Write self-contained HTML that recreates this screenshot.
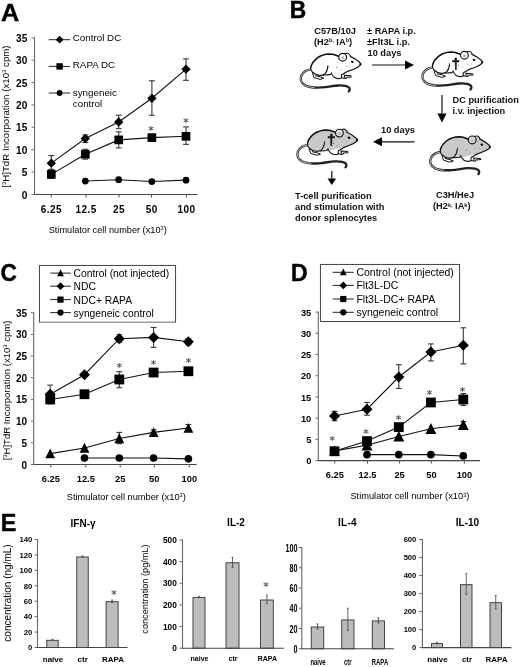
<!DOCTYPE html>
<html lang="en"><head><meta charset="utf-8"><title>Figure</title>
<style>
html,body{margin:0;padding:0;background:#fff;}
body{width:520px;height:667px;overflow:hidden;}
svg{display:block;font-family:"Liberation Sans",Arial,Helvetica,sans-serif;}
</style></head><body>
<svg width="520" height="667" viewBox="0 0 520 667">
<rect width="520" height="667" fill="#fff"/>
<text x="1.0" y="20.7" font-size="24" font-weight="bold" fill="#000" transform="translate(1.0 0) scale(1.055 1) translate(-1.0 0)" stroke="#000" stroke-width="0.3">A</text>
<text x="289.7" y="17.8" font-size="24" font-weight="bold" fill="#000" transform="translate(289.7 0) scale(0.95 1) translate(-289.7 0)" stroke="#000" stroke-width="0.5">B</text>
<text x="0.6" y="281" font-size="24" font-weight="bold" fill="#000" transform="translate(0.6 0) scale(0.95 1) translate(-0.6 0)" stroke="#000" stroke-width="0.4">C</text>
<text x="290.7" y="281" font-size="24" font-weight="bold" fill="#000" transform="translate(290.7 0) scale(0.98 1) translate(-290.7 0)" stroke="#000" stroke-width="0.3">D</text>
<text x="0.7" y="530.9" font-size="24.8" font-weight="bold" fill="#000" transform="translate(0.7 0) scale(0.94 1) translate(-0.7 0)" stroke="#000" stroke-width="0.5">E</text>
<g id="panelA">
<line x1="34.50" y1="37.30" x2="34.50" y2="195.00" stroke="#666" stroke-width="1.1"/>
<line x1="34.00" y1="194.50" x2="197.50" y2="194.50" stroke="#444" stroke-width="1.1"/>
<line x1="31.50" y1="194.50" x2="34.50" y2="194.50" stroke="#777" stroke-width="1"/>
<text x="27.3" y="198.536" font-size="10.1" font-weight="bold" text-anchor="end">0</text>
<line x1="31.50" y1="172.11" x2="34.50" y2="172.11" stroke="#777" stroke-width="1"/>
<text x="27.3" y="176.1502857142857" font-size="10.1" font-weight="bold" text-anchor="end">5</text>
<line x1="31.50" y1="149.73" x2="34.50" y2="149.73" stroke="#777" stroke-width="1"/>
<text x="27.3" y="153.76457142857143" font-size="10.1" font-weight="bold" text-anchor="end">10</text>
<line x1="31.50" y1="127.34" x2="34.50" y2="127.34" stroke="#777" stroke-width="1"/>
<text x="27.3" y="131.37885714285716" font-size="10.1" font-weight="bold" text-anchor="end">15</text>
<line x1="31.50" y1="104.96" x2="34.50" y2="104.96" stroke="#777" stroke-width="1"/>
<text x="27.3" y="108.99314285714286" font-size="10.1" font-weight="bold" text-anchor="end">20</text>
<line x1="31.50" y1="82.57" x2="34.50" y2="82.57" stroke="#777" stroke-width="1"/>
<text x="27.3" y="86.60742857142858" font-size="10.1" font-weight="bold" text-anchor="end">25</text>
<line x1="31.50" y1="60.19" x2="34.50" y2="60.19" stroke="#777" stroke-width="1"/>
<text x="27.3" y="64.22171428571428" font-size="10.1" font-weight="bold" text-anchor="end">30</text>
<line x1="31.50" y1="37.80" x2="34.50" y2="37.80" stroke="#777" stroke-width="1"/>
<text x="27.3" y="41.83600000000001" font-size="10.1" font-weight="bold" text-anchor="end">35</text>
<line x1="51.20" y1="194.50" x2="51.20" y2="197.50" stroke="#555" stroke-width="1"/>
<text x="51.425000000000004" y="212.7" font-size="10" font-weight="bold" text-anchor="middle" letter-spacing="0.45">6.25</text>
<line x1="86.00" y1="194.50" x2="86.00" y2="197.50" stroke="#555" stroke-width="1"/>
<text x="86.225" y="212.7" font-size="10" font-weight="bold" text-anchor="middle" letter-spacing="0.45">12.5</text>
<line x1="118.90" y1="194.50" x2="118.90" y2="197.50" stroke="#555" stroke-width="1"/>
<text x="119.125" y="212.7" font-size="10" font-weight="bold" text-anchor="middle" letter-spacing="0.45">25</text>
<line x1="151.50" y1="194.50" x2="151.50" y2="197.50" stroke="#555" stroke-width="1"/>
<text x="151.725" y="212.7" font-size="10" font-weight="bold" text-anchor="middle" letter-spacing="0.45">50</text>
<line x1="186.40" y1="194.50" x2="186.40" y2="197.50" stroke="#555" stroke-width="1"/>
<text x="186.625" y="212.7" font-size="10" font-weight="bold" text-anchor="middle" letter-spacing="0.45">100</text>
<path d="M51.30 163.16L85.30 138.54L118.70 121.97L151.90 98.24L186.00 69.14" fill="none" stroke="#111" stroke-width="1.1"/>
<line x1="51.30" y1="155.55" x2="51.30" y2="169.43" stroke="#383838" stroke-width="1.1"/>
<line x1="48.40" y1="155.55" x2="54.20" y2="155.55" stroke="#383838" stroke-width="1.1"/>
<line x1="48.40" y1="169.43" x2="54.20" y2="169.43" stroke="#383838" stroke-width="1.1"/>
<line x1="85.30" y1="134.95" x2="85.30" y2="142.57" stroke="#383838" stroke-width="1.1"/>
<line x1="82.40" y1="134.95" x2="88.20" y2="134.95" stroke="#383838" stroke-width="1.1"/>
<line x1="82.40" y1="142.57" x2="88.20" y2="142.57" stroke="#383838" stroke-width="1.1"/>
<line x1="118.70" y1="115.25" x2="118.70" y2="128.69" stroke="#383838" stroke-width="1.1"/>
<line x1="115.80" y1="115.25" x2="121.60" y2="115.25" stroke="#383838" stroke-width="1.1"/>
<line x1="115.80" y1="128.69" x2="121.60" y2="128.69" stroke="#383838" stroke-width="1.1"/>
<line x1="151.90" y1="80.78" x2="151.90" y2="115.25" stroke="#383838" stroke-width="1.1"/>
<line x1="149.00" y1="80.78" x2="154.80" y2="80.78" stroke="#383838" stroke-width="1.1"/>
<line x1="149.00" y1="115.25" x2="154.80" y2="115.25" stroke="#383838" stroke-width="1.1"/>
<line x1="186.00" y1="58.84" x2="186.00" y2="80.33" stroke="#383838" stroke-width="1.1"/>
<line x1="183.10" y1="58.84" x2="188.90" y2="58.84" stroke="#383838" stroke-width="1.1"/>
<line x1="183.10" y1="80.33" x2="188.90" y2="80.33" stroke="#383838" stroke-width="1.1"/>
<path d="M51.30 158.46L56.00 163.16L51.30 167.86L46.60 163.16Z" fill="#000"/>
<path d="M85.30 133.84L90.00 138.54L85.30 143.23L80.60 138.54Z" fill="#000"/>
<path d="M118.70 117.27L123.40 121.97L118.70 126.67L114.00 121.97Z" fill="#000"/>
<path d="M151.90 93.54L156.60 98.24L151.90 102.94L147.20 98.24Z" fill="#000"/>
<path d="M186.00 64.44L190.70 69.14L186.00 73.84L181.30 69.14Z" fill="#000"/>
<path d="M51.30 174.35L85.30 154.21L118.70 139.88L151.90 137.64L186.00 136.30" fill="none" stroke="#111" stroke-width="1.1"/>
<line x1="51.30" y1="169.43" x2="51.30" y2="178.38" stroke="#383838" stroke-width="1.1"/>
<line x1="48.40" y1="169.43" x2="54.20" y2="169.43" stroke="#383838" stroke-width="1.1"/>
<line x1="48.40" y1="178.38" x2="54.20" y2="178.38" stroke="#383838" stroke-width="1.1"/>
<line x1="85.30" y1="149.28" x2="85.30" y2="159.13" stroke="#383838" stroke-width="1.1"/>
<line x1="82.40" y1="149.28" x2="88.20" y2="149.28" stroke="#383838" stroke-width="1.1"/>
<line x1="82.40" y1="159.13" x2="88.20" y2="159.13" stroke="#383838" stroke-width="1.1"/>
<line x1="118.70" y1="131.82" x2="118.70" y2="147.94" stroke="#383838" stroke-width="1.1"/>
<line x1="115.80" y1="131.82" x2="121.60" y2="131.82" stroke="#383838" stroke-width="1.1"/>
<line x1="115.80" y1="147.94" x2="121.60" y2="147.94" stroke="#383838" stroke-width="1.1"/>
<line x1="151.90" y1="134.51" x2="151.90" y2="140.77" stroke="#383838" stroke-width="1.1"/>
<line x1="149.00" y1="134.51" x2="154.80" y2="134.51" stroke="#383838" stroke-width="1.1"/>
<line x1="149.00" y1="140.77" x2="154.80" y2="140.77" stroke="#383838" stroke-width="1.1"/>
<line x1="186.00" y1="126.90" x2="186.00" y2="144.36" stroke="#383838" stroke-width="1.1"/>
<line x1="183.10" y1="126.90" x2="188.90" y2="126.90" stroke="#383838" stroke-width="1.1"/>
<line x1="183.10" y1="144.36" x2="188.90" y2="144.36" stroke="#383838" stroke-width="1.1"/>
<rect x="46.95" y="170.00" width="8.70" height="8.70" fill="#000"/>
<rect x="80.95" y="149.86" width="8.70" height="8.70" fill="#000"/>
<rect x="114.35" y="135.53" width="8.70" height="8.70" fill="#000"/>
<rect x="147.55" y="133.29" width="8.70" height="8.70" fill="#000"/>
<rect x="181.65" y="131.95" width="8.70" height="8.70" fill="#000"/>
<path d="M85.30 181.07L118.70 179.73L151.90 181.52L186.00 180.17" fill="none" stroke="#111" stroke-width="1.1"/>
<circle cx="85.30" cy="181.07" r="3.39" fill="#000"/>
<circle cx="118.70" cy="179.73" r="3.39" fill="#000"/>
<circle cx="151.90" cy="181.52" r="3.39" fill="#000"/>
<circle cx="186.00" cy="180.17" r="3.39" fill="#000"/>
<text x="151" y="133.81" font-size="10.5" font-family="&quot;DejaVu Sans&quot;,&quot;Liberation Sans&quot;,sans-serif" font-weight="bold" text-anchor="middle" fill="#5a5a5a">*</text>
<text x="186" y="126.11" font-size="10.5" font-family="&quot;DejaVu Sans&quot;,&quot;Liberation Sans&quot;,sans-serif" font-weight="bold" text-anchor="middle" fill="#5a5a5a">*</text>
<line x1="48.80" y1="39.70" x2="70.20" y2="39.70" stroke="#222" stroke-width="1"/>
<path d="M59.60 35.81L63.49 39.70L59.60 43.59L55.71 39.70Z" fill="#000"/>
<text x="72.8" y="41.400000000000006" font-size="9.8">Control DC</text>
<line x1="48.80" y1="66.40" x2="70.20" y2="66.40" stroke="#222" stroke-width="1"/>
<rect x="56.40" y="63.20" width="6.40" height="6.40" fill="#000"/>
<text x="72.8" y="68.2" font-size="9.8">RAPA DC</text>
<line x1="48.80" y1="93.00" x2="70.20" y2="93.00" stroke="#222" stroke-width="1"/>
<circle cx="59.60" cy="93.00" r="2.89" fill="#000"/>
<text x="72.8" y="95.5" font-size="9.8">syngeneic</text>
<text x="72.8" y="106.7" font-size="9.8">control</text>
<text x="9.2" y="116.6" font-size="9.7" text-anchor="middle" transform="rotate(-90 9.2 116.6)">[<tspan font-size="6" dy="-2.8">3</tspan><tspan dy="2.8">H]TdR Incorporation (x10</tspan><tspan font-size="6" dy="-2.8">3</tspan><tspan dy="2.8"> cpm)</tspan></text>
<text x="48.7" y="232.9" font-size="9.8" textLength="118" lengthAdjust="spacingAndGlyphs">Stimulator cell number (x10<tspan font-size="6" dy="-2.8">3</tspan><tspan dy="2.8">)</tspan></text>
</g>
<g id="panelC">
<rect x="39.5" y="265.5" width="136" height="56.5" fill="#fff" stroke="#4a4a4a" stroke-width="1.1"/>
<line x1="33.70" y1="312.20" x2="33.70" y2="465.00" stroke="#666" stroke-width="1.1"/>
<line x1="33.20" y1="464.50" x2="196.70" y2="464.50" stroke="#444" stroke-width="1.1"/>
<line x1="30.70" y1="464.50" x2="33.70" y2="464.50" stroke="#777" stroke-width="1"/>
<text x="27" y="468.5" font-size="10" font-weight="bold" text-anchor="end">0</text>
<line x1="30.70" y1="442.81" x2="33.70" y2="442.81" stroke="#777" stroke-width="1"/>
<text x="27" y="446.8142857142857" font-size="10" font-weight="bold" text-anchor="end">5</text>
<line x1="30.70" y1="421.13" x2="33.70" y2="421.13" stroke="#777" stroke-width="1"/>
<text x="27" y="425.12857142857143" font-size="10" font-weight="bold" text-anchor="end">10</text>
<line x1="30.70" y1="399.44" x2="33.70" y2="399.44" stroke="#777" stroke-width="1"/>
<text x="27" y="403.4428571428571" font-size="10" font-weight="bold" text-anchor="end">15</text>
<line x1="30.70" y1="377.76" x2="33.70" y2="377.76" stroke="#777" stroke-width="1"/>
<text x="27" y="381.75714285714287" font-size="10" font-weight="bold" text-anchor="end">20</text>
<line x1="30.70" y1="356.07" x2="33.70" y2="356.07" stroke="#777" stroke-width="1"/>
<text x="27" y="360.07142857142856" font-size="10" font-weight="bold" text-anchor="end">25</text>
<line x1="30.70" y1="334.39" x2="33.70" y2="334.39" stroke="#777" stroke-width="1"/>
<text x="27" y="338.38571428571424" font-size="10" font-weight="bold" text-anchor="end">30</text>
<line x1="30.70" y1="312.70" x2="33.70" y2="312.70" stroke="#777" stroke-width="1"/>
<text x="27" y="316.7" font-size="10" font-weight="bold" text-anchor="end">35</text>
<line x1="50.80" y1="464.50" x2="50.80" y2="467.50" stroke="#555" stroke-width="1"/>
<text x="50.8" y="481.8" font-size="9.8" font-weight="bold" text-anchor="middle" transform="translate(50.8 0) scale(0.95 1) translate(-50.8 0)">6.25</text>
<line x1="85.80" y1="464.50" x2="85.80" y2="467.50" stroke="#555" stroke-width="1"/>
<text x="85.8" y="481.8" font-size="9.8" font-weight="bold" text-anchor="middle" transform="translate(85.8 0) scale(0.95 1) translate(-85.8 0)">12.5</text>
<line x1="120.20" y1="464.50" x2="120.20" y2="467.50" stroke="#555" stroke-width="1"/>
<text x="120.2" y="481.8" font-size="9.8" font-weight="bold" text-anchor="middle" transform="translate(120.2 0) scale(0.95 1) translate(-120.2 0)">25</text>
<line x1="154.30" y1="464.50" x2="154.30" y2="467.50" stroke="#555" stroke-width="1"/>
<text x="154.3" y="481.8" font-size="9.8" font-weight="bold" text-anchor="middle" transform="translate(154.3 0) scale(0.95 1) translate(-154.3 0)">50</text>
<line x1="189.30" y1="464.50" x2="189.30" y2="467.50" stroke="#555" stroke-width="1"/>
<text x="189.3" y="481.8" font-size="9.8" font-weight="bold" text-anchor="middle" transform="translate(189.3 0) scale(0.95 1) translate(-189.3 0)">100</text>
<path d="M50.20 453.66L84.50 448.02L119.30 438.48L153.60 432.41L188.40 428.07" fill="none" stroke="#111" stroke-width="1.1"/>
<line x1="119.30" y1="432.41" x2="119.30" y2="443.68" stroke="#383838" stroke-width="1.1"/>
<line x1="116.40" y1="432.41" x2="122.20" y2="432.41" stroke="#383838" stroke-width="1.1"/>
<line x1="116.40" y1="443.68" x2="122.20" y2="443.68" stroke="#383838" stroke-width="1.1"/>
<line x1="153.60" y1="429.80" x2="153.60" y2="435.01" stroke="#383838" stroke-width="1.1"/>
<line x1="150.70" y1="429.80" x2="156.50" y2="429.80" stroke="#383838" stroke-width="1.1"/>
<line x1="150.70" y1="435.01" x2="156.50" y2="435.01" stroke="#383838" stroke-width="1.1"/>
<line x1="188.40" y1="424.60" x2="188.40" y2="431.54" stroke="#383838" stroke-width="1.1"/>
<line x1="185.50" y1="424.60" x2="191.30" y2="424.60" stroke="#383838" stroke-width="1.1"/>
<line x1="185.50" y1="431.54" x2="191.30" y2="431.54" stroke="#383838" stroke-width="1.1"/>
<path d="M50.20 448.51L55.10 458.31L45.30 458.31Z" fill="#000"/>
<path d="M84.50 442.87L89.40 452.67L79.60 452.67Z" fill="#000"/>
<path d="M119.30 433.33L124.20 443.13L114.40 443.13Z" fill="#000"/>
<path d="M153.60 427.26L158.50 437.06L148.70 437.06Z" fill="#000"/>
<path d="M188.40 422.92L193.30 432.72L183.50 432.72Z" fill="#000"/>
<path d="M84.50 457.99L119.30 457.99L153.60 457.99L188.40 458.86" fill="none" stroke="#111" stroke-width="1.1"/>
<circle cx="84.50" cy="457.99" r="3.82" fill="#000"/>
<circle cx="119.30" cy="457.99" r="3.82" fill="#000"/>
<circle cx="153.60" cy="457.99" r="3.82" fill="#000"/>
<circle cx="188.40" cy="458.86" r="3.82" fill="#000"/>
<path d="M50.20 394.24L84.50 374.72L119.30 338.72L153.60 337.42L188.40 341.76" fill="none" stroke="#111" stroke-width="1.1"/>
<line x1="50.20" y1="385.13" x2="50.20" y2="401.61" stroke="#383838" stroke-width="1.1"/>
<line x1="47.30" y1="385.13" x2="53.10" y2="385.13" stroke="#383838" stroke-width="1.1"/>
<line x1="47.30" y1="401.61" x2="53.10" y2="401.61" stroke="#383838" stroke-width="1.1"/>
<line x1="119.30" y1="334.82" x2="119.30" y2="342.19" stroke="#383838" stroke-width="1.1"/>
<line x1="116.40" y1="334.82" x2="122.20" y2="334.82" stroke="#383838" stroke-width="1.1"/>
<line x1="116.40" y1="342.19" x2="122.20" y2="342.19" stroke="#383838" stroke-width="1.1"/>
<line x1="153.60" y1="327.45" x2="153.60" y2="347.40" stroke="#383838" stroke-width="1.1"/>
<line x1="150.70" y1="327.45" x2="156.50" y2="327.45" stroke="#383838" stroke-width="1.1"/>
<line x1="150.70" y1="347.40" x2="156.50" y2="347.40" stroke="#383838" stroke-width="1.1"/>
<line x1="188.40" y1="338.72" x2="188.40" y2="344.79" stroke="#383838" stroke-width="1.1"/>
<line x1="185.50" y1="338.72" x2="191.30" y2="338.72" stroke="#383838" stroke-width="1.1"/>
<line x1="185.50" y1="344.79" x2="191.30" y2="344.79" stroke="#383838" stroke-width="1.1"/>
<path d="M50.20 388.73L55.71 394.24L50.20 399.75L44.69 394.24Z" fill="#000"/>
<path d="M84.50 369.21L90.01 374.72L84.50 380.23L78.99 374.72Z" fill="#000"/>
<path d="M119.30 333.21L124.81 338.72L119.30 344.23L113.79 338.72Z" fill="#000"/>
<path d="M153.60 331.91L159.11 337.42L153.60 342.93L148.09 337.42Z" fill="#000"/>
<path d="M188.40 336.25L193.91 341.76L188.40 347.27L182.89 341.76Z" fill="#000"/>
<path d="M50.20 399.44L84.50 394.24L119.30 379.49L153.60 372.55L188.40 371.25" fill="none" stroke="#111" stroke-width="1.1"/>
<line x1="50.20" y1="395.11" x2="50.20" y2="403.78" stroke="#383838" stroke-width="1.1"/>
<line x1="47.30" y1="395.11" x2="53.10" y2="395.11" stroke="#383838" stroke-width="1.1"/>
<line x1="47.30" y1="403.78" x2="53.10" y2="403.78" stroke="#383838" stroke-width="1.1"/>
<line x1="119.30" y1="371.69" x2="119.30" y2="387.73" stroke="#383838" stroke-width="1.1"/>
<line x1="116.40" y1="371.69" x2="122.20" y2="371.69" stroke="#383838" stroke-width="1.1"/>
<line x1="116.40" y1="387.73" x2="122.20" y2="387.73" stroke="#383838" stroke-width="1.1"/>
<line x1="153.60" y1="369.08" x2="153.60" y2="376.02" stroke="#383838" stroke-width="1.1"/>
<line x1="150.70" y1="369.08" x2="156.50" y2="369.08" stroke="#383838" stroke-width="1.1"/>
<line x1="150.70" y1="376.02" x2="156.50" y2="376.02" stroke="#383838" stroke-width="1.1"/>
<rect x="45.30" y="394.54" width="9.80" height="9.80" fill="#000"/>
<rect x="79.60" y="389.34" width="9.80" height="9.80" fill="#000"/>
<rect x="114.40" y="374.59" width="9.80" height="9.80" fill="#000"/>
<rect x="148.70" y="367.65" width="9.80" height="9.80" fill="#000"/>
<rect x="183.50" y="366.35" width="9.80" height="9.80" fill="#000"/>
<text x="119.3" y="370.51" font-size="10.5" font-family="&quot;DejaVu Sans&quot;,&quot;Liberation Sans&quot;,sans-serif" font-weight="bold" text-anchor="middle" fill="#5a5a5a">*</text>
<text x="153.6" y="368.01" font-size="10.5" font-family="&quot;DejaVu Sans&quot;,&quot;Liberation Sans&quot;,sans-serif" font-weight="bold" text-anchor="middle" fill="#5a5a5a">*</text>
<text x="188.4" y="365.51" font-size="10.5" font-family="&quot;DejaVu Sans&quot;,&quot;Liberation Sans&quot;,sans-serif" font-weight="bold" text-anchor="middle" fill="#5a5a5a">*</text>
<rect x="40" y="266" width="135" height="55.5" fill="#fff" stroke="none"/>
<line x1="50.30" y1="273.10" x2="70.80" y2="273.10" stroke="#222" stroke-width="1"/>
<path d="M60.50 269.33L63.90 276.13L57.10 276.13Z" fill="#000"/>
<text x="73.6" y="277.0" font-size="10.3">Control (not injected)</text>
<line x1="50.30" y1="286.20" x2="70.80" y2="286.20" stroke="#222" stroke-width="1"/>
<path d="M60.50 282.31L64.39 286.20L60.50 290.09L56.61 286.20Z" fill="#000"/>
<text x="73.6" y="290.09999999999997" font-size="10.3">NDC</text>
<line x1="50.30" y1="299.60" x2="70.80" y2="299.60" stroke="#222" stroke-width="1"/>
<rect x="57.40" y="296.50" width="6.20" height="6.20" fill="#000"/>
<text x="73.6" y="303.5" font-size="10.3">NDC+ RAPA</text>
<line x1="50.30" y1="312.60" x2="70.80" y2="312.60" stroke="#222" stroke-width="1"/>
<circle cx="60.50" cy="312.60" r="3.12" fill="#000"/>
<text x="73.6" y="316.5" font-size="10.3">syngeneic control</text>
<text x="9.6" y="390.5" font-size="9.5" text-anchor="middle" transform="rotate(-90 9.6 390.5)">[<tspan font-size="6" dy="-2.8">3</tspan><tspan dy="2.8">H]TdR Incorporation (x10</tspan><tspan font-size="6" dy="-2.8">3</tspan><tspan dy="2.8"> cpm)</tspan></text>
<text x="66.8" y="499.6" font-size="9.8" textLength="119" lengthAdjust="spacingAndGlyphs">Stimulator cell number (x10<tspan font-size="6" dy="-2.8">3</tspan><tspan dy="2.8">)</tspan></text>
</g>
<g id="panelD">
<rect x="320.5" y="264.5" width="139" height="57" fill="#fff" stroke="#4a4a4a" stroke-width="1.1"/>
<line x1="318.30" y1="311.60" x2="318.30" y2="461.10" stroke="#666" stroke-width="1.1"/>
<line x1="317.80" y1="460.60" x2="480.00" y2="460.60" stroke="#444" stroke-width="1.1"/>
<line x1="315.30" y1="460.60" x2="318.30" y2="460.60" stroke="#777" stroke-width="1"/>
<text x="311.3" y="464.348" font-size="9.3" font-weight="bold" text-anchor="end">0</text>
<line x1="315.30" y1="439.39" x2="318.30" y2="439.39" stroke="#777" stroke-width="1"/>
<text x="311.3" y="443.1337142857143" font-size="9.3" font-weight="bold" text-anchor="end">5</text>
<line x1="315.30" y1="418.17" x2="318.30" y2="418.17" stroke="#777" stroke-width="1"/>
<text x="311.3" y="421.91942857142857" font-size="9.3" font-weight="bold" text-anchor="end">10</text>
<line x1="315.30" y1="396.96" x2="318.30" y2="396.96" stroke="#777" stroke-width="1"/>
<text x="311.3" y="400.70514285714285" font-size="9.3" font-weight="bold" text-anchor="end">15</text>
<line x1="315.30" y1="375.74" x2="318.30" y2="375.74" stroke="#777" stroke-width="1"/>
<text x="311.3" y="379.4908571428571" font-size="9.3" font-weight="bold" text-anchor="end">20</text>
<line x1="315.30" y1="354.53" x2="318.30" y2="354.53" stroke="#777" stroke-width="1"/>
<text x="311.3" y="358.27657142857146" font-size="9.3" font-weight="bold" text-anchor="end">25</text>
<line x1="315.30" y1="333.31" x2="318.30" y2="333.31" stroke="#777" stroke-width="1"/>
<text x="311.3" y="337.06228571428574" font-size="9.3" font-weight="bold" text-anchor="end">30</text>
<line x1="315.30" y1="312.10" x2="318.30" y2="312.10" stroke="#777" stroke-width="1"/>
<text x="311.3" y="315.848" font-size="9.3" font-weight="bold" text-anchor="end">35</text>
<line x1="334.80" y1="460.60" x2="334.80" y2="463.60" stroke="#555" stroke-width="1"/>
<text x="334.8" y="477.6" font-size="9.8" font-weight="bold" text-anchor="middle" transform="translate(334.8 0) scale(0.95 1) translate(-334.8 0)">6.25</text>
<line x1="367.50" y1="460.60" x2="367.50" y2="463.60" stroke="#555" stroke-width="1"/>
<text x="367.5" y="477.6" font-size="9.8" font-weight="bold" text-anchor="middle" transform="translate(367.5 0) scale(0.95 1) translate(-367.5 0)">12.5</text>
<line x1="399.60" y1="460.60" x2="399.60" y2="463.60" stroke="#555" stroke-width="1"/>
<text x="399.6" y="477.6" font-size="9.8" font-weight="bold" text-anchor="middle" transform="translate(399.6 0) scale(0.95 1) translate(-399.6 0)">25</text>
<line x1="431.40" y1="460.60" x2="431.40" y2="463.60" stroke="#555" stroke-width="1"/>
<text x="431.4" y="477.6" font-size="9.8" font-weight="bold" text-anchor="middle" transform="translate(431.4 0) scale(0.95 1) translate(-431.4 0)">50</text>
<line x1="464.40" y1="460.60" x2="464.40" y2="463.60" stroke="#555" stroke-width="1"/>
<text x="464.4" y="477.6" font-size="9.8" font-weight="bold" text-anchor="middle" transform="translate(464.4 0) scale(0.95 1) translate(-464.4 0)">100</text>
<path d="M367.00 454.66L398.80 454.66L430.90 454.66L463.30 455.93" fill="none" stroke="#111" stroke-width="1.1"/>
<circle cx="367.00" cy="454.66" r="3.82" fill="#000"/>
<circle cx="398.80" cy="454.66" r="3.82" fill="#000"/>
<circle cx="430.90" cy="454.66" r="3.82" fill="#000"/>
<circle cx="463.30" cy="455.93" r="3.82" fill="#000"/>
<path d="M334.50 450.84L367.00 445.33L398.80 436.42L430.90 428.78L463.30 424.96" fill="none" stroke="#111" stroke-width="1.1"/>
<line x1="463.30" y1="421.57" x2="463.30" y2="428.35" stroke="#383838" stroke-width="1.1"/>
<line x1="460.40" y1="421.57" x2="466.20" y2="421.57" stroke="#383838" stroke-width="1.1"/>
<line x1="460.40" y1="428.35" x2="466.20" y2="428.35" stroke="#383838" stroke-width="1.1"/>
<path d="M334.50 445.17L339.90 455.97L329.10 455.97Z" fill="#000"/>
<path d="M367.00 439.66L372.40 450.46L361.60 450.46Z" fill="#000"/>
<path d="M398.80 430.75L404.20 441.55L393.40 441.55Z" fill="#000"/>
<path d="M430.90 423.11L436.30 433.91L425.50 433.91Z" fill="#000"/>
<path d="M463.30 419.29L468.70 430.09L457.90 430.09Z" fill="#000"/>
<path d="M334.50 416.05L367.00 409.26L398.80 377.02L430.90 351.98L463.30 345.19" fill="none" stroke="#111" stroke-width="1.1"/>
<line x1="334.50" y1="411.38" x2="334.50" y2="420.72" stroke="#383838" stroke-width="1.1"/>
<line x1="331.60" y1="411.38" x2="337.40" y2="411.38" stroke="#383838" stroke-width="1.1"/>
<line x1="331.60" y1="420.72" x2="337.40" y2="420.72" stroke="#383838" stroke-width="1.1"/>
<line x1="367.00" y1="402.47" x2="367.00" y2="415.20" stroke="#383838" stroke-width="1.1"/>
<line x1="364.10" y1="402.47" x2="369.90" y2="402.47" stroke="#383838" stroke-width="1.1"/>
<line x1="364.10" y1="415.20" x2="369.90" y2="415.20" stroke="#383838" stroke-width="1.1"/>
<line x1="398.80" y1="364.71" x2="398.80" y2="388.47" stroke="#383838" stroke-width="1.1"/>
<line x1="395.90" y1="364.71" x2="401.70" y2="364.71" stroke="#383838" stroke-width="1.1"/>
<line x1="395.90" y1="388.47" x2="401.70" y2="388.47" stroke="#383838" stroke-width="1.1"/>
<line x1="430.90" y1="343.92" x2="430.90" y2="360.89" stroke="#383838" stroke-width="1.1"/>
<line x1="428.00" y1="343.92" x2="433.80" y2="343.92" stroke="#383838" stroke-width="1.1"/>
<line x1="428.00" y1="360.89" x2="433.80" y2="360.89" stroke="#383838" stroke-width="1.1"/>
<line x1="463.30" y1="327.80" x2="463.30" y2="363.86" stroke="#383838" stroke-width="1.1"/>
<line x1="460.40" y1="327.80" x2="466.20" y2="327.80" stroke="#383838" stroke-width="1.1"/>
<line x1="460.40" y1="363.86" x2="466.20" y2="363.86" stroke="#383838" stroke-width="1.1"/>
<path d="M334.50 410.54L340.01 416.05L334.50 421.56L328.99 416.05Z" fill="#000"/>
<path d="M367.00 403.75L372.51 409.26L367.00 414.77L361.49 409.26Z" fill="#000"/>
<path d="M398.80 371.51L404.31 377.02L398.80 382.52L393.29 377.02Z" fill="#000"/>
<path d="M430.90 346.47L436.41 351.98L430.90 357.49L425.39 351.98Z" fill="#000"/>
<path d="M463.30 339.69L468.81 345.19L463.30 350.70L457.79 345.19Z" fill="#000"/>
<path d="M334.50 451.27L367.00 441.08L398.80 427.08L430.90 402.47L463.30 399.50" fill="none" stroke="#111" stroke-width="1.1"/>
<line x1="463.30" y1="393.56" x2="463.30" y2="405.44" stroke="#383838" stroke-width="1.1"/>
<line x1="460.40" y1="393.56" x2="466.20" y2="393.56" stroke="#383838" stroke-width="1.1"/>
<line x1="460.40" y1="405.44" x2="466.20" y2="405.44" stroke="#383838" stroke-width="1.1"/>
<rect x="329.60" y="446.37" width="9.80" height="9.80" fill="#000"/>
<rect x="362.10" y="436.18" width="9.80" height="9.80" fill="#000"/>
<rect x="393.90" y="422.18" width="9.80" height="9.80" fill="#000"/>
<rect x="426.00" y="397.57" width="9.80" height="9.80" fill="#000"/>
<rect x="458.40" y="394.60" width="9.80" height="9.80" fill="#000"/>
<text x="332.3" y="443.51" font-size="10.5" font-family="&quot;DejaVu Sans&quot;,&quot;Liberation Sans&quot;,sans-serif" font-weight="bold" text-anchor="middle" fill="#5a5a5a">*</text>
<text x="366" y="436.51" font-size="10.5" font-family="&quot;DejaVu Sans&quot;,&quot;Liberation Sans&quot;,sans-serif" font-weight="bold" text-anchor="middle" fill="#5a5a5a">*</text>
<text x="398.5" y="422.51" font-size="10.5" font-family="&quot;DejaVu Sans&quot;,&quot;Liberation Sans&quot;,sans-serif" font-weight="bold" text-anchor="middle" fill="#5a5a5a">*</text>
<text x="429.5" y="397.51" font-size="10.5" font-family="&quot;DejaVu Sans&quot;,&quot;Liberation Sans&quot;,sans-serif" font-weight="bold" text-anchor="middle" fill="#5a5a5a">*</text>
<text x="462.5" y="394.51" font-size="10.5" font-family="&quot;DejaVu Sans&quot;,&quot;Liberation Sans&quot;,sans-serif" font-weight="bold" text-anchor="middle" fill="#5a5a5a">*</text>
<rect x="321" y="265" width="138" height="56" fill="#fff" stroke="none"/>
<line x1="332.70" y1="272.30" x2="353.80" y2="272.30" stroke="#222" stroke-width="1"/>
<path d="M343.30 268.53L346.70 275.33L339.90 275.33Z" fill="#000"/>
<text x="356.4" y="276.1" font-size="10.5">Control (not injected)</text>
<line x1="332.70" y1="285.40" x2="353.80" y2="285.40" stroke="#222" stroke-width="1"/>
<path d="M343.30 281.51L347.19 285.40L343.30 289.29L339.41 285.40Z" fill="#000"/>
<text x="356.4" y="289.29999999999995" font-size="10.5">Flt3L-DC</text>
<line x1="332.70" y1="299.00" x2="353.80" y2="299.00" stroke="#222" stroke-width="1"/>
<rect x="340.20" y="295.90" width="6.20" height="6.20" fill="#000"/>
<text x="356.4" y="303.4" font-size="10.5">Flt3L-DC+ RAPA</text>
<line x1="332.70" y1="312.30" x2="353.80" y2="312.30" stroke="#222" stroke-width="1"/>
<circle cx="343.30" cy="312.30" r="3.12" fill="#000"/>
<text x="356.4" y="315.90000000000003" font-size="10.5">syngeneic control</text>
<text x="350.4" y="499.3" font-size="9.8" textLength="119" lengthAdjust="spacingAndGlyphs">Stimulator cell number (x10<tspan font-size="6" dy="-2.8">3</tspan><tspan dy="2.8">)</tspan></text>
</g>
<g id="panelE">
<rect x="46.75" y="640.29" width="11.5" height="7.21" fill="#bcbcbc" stroke="#333" stroke-width="0.9"/>
<line x1="52.50" y1="639.32" x2="52.50" y2="640.25" stroke="#4a4a4a" stroke-width="0.85"/>
<line x1="51.50" y1="639.32" x2="53.50" y2="639.32" stroke="#4a4a4a" stroke-width="0.85"/>
<line x1="51.50" y1="640.25" x2="53.50" y2="640.25" stroke="#4a4a4a" stroke-width="0.85"/>
<text x="53" y="661.6" font-size="8" font-weight="bold" text-anchor="middle">naive</text>
<rect x="76.75" y="556.97" width="11.5" height="90.53" fill="#bcbcbc" stroke="#333" stroke-width="0.9"/>
<line x1="82.50" y1="556.01" x2="82.50" y2="556.93" stroke="#4a4a4a" stroke-width="0.85"/>
<line x1="81.50" y1="556.01" x2="83.50" y2="556.01" stroke="#4a4a4a" stroke-width="0.85"/>
<line x1="81.50" y1="556.93" x2="83.50" y2="556.93" stroke="#4a4a4a" stroke-width="0.85"/>
<text x="82.7" y="661.6" font-size="8" font-weight="bold" text-anchor="middle">ctr</text>
<rect x="106.1" y="601.71" width="12.0" height="45.79" fill="#bcbcbc" stroke="#333" stroke-width="0.9"/>
<line x1="112.10" y1="600.06" x2="112.10" y2="602.37" stroke="#4a4a4a" stroke-width="0.85"/>
<line x1="111.10" y1="600.06" x2="113.10" y2="600.06" stroke="#4a4a4a" stroke-width="0.85"/>
<line x1="111.10" y1="602.37" x2="113.10" y2="602.37" stroke="#4a4a4a" stroke-width="0.85"/>
<text x="113" y="661.6" font-size="8" font-weight="bold" text-anchor="middle">RAPA</text>
<line x1="37.50" y1="539.00" x2="37.50" y2="648.00" stroke="#666" stroke-width="1.1"/>
<line x1="37.00" y1="647.50" x2="127.50" y2="647.50" stroke="#444" stroke-width="1.1"/>
<line x1="34.50" y1="647.50" x2="37.50" y2="647.50" stroke="#666" stroke-width="1"/>
<text x="32.3" y="650.272" font-size="7.7" font-weight="bold" text-anchor="end">0</text>
<line x1="34.50" y1="632.07" x2="37.50" y2="632.07" stroke="#666" stroke-width="1"/>
<text x="32.3" y="634.8434285714286" font-size="7.7" font-weight="bold" text-anchor="end">20</text>
<line x1="34.50" y1="616.64" x2="37.50" y2="616.64" stroke="#666" stroke-width="1"/>
<text x="32.3" y="619.4148571428572" font-size="7.7" font-weight="bold" text-anchor="end">40</text>
<line x1="34.50" y1="601.21" x2="37.50" y2="601.21" stroke="#666" stroke-width="1"/>
<text x="32.3" y="603.9862857142857" font-size="7.7" font-weight="bold" text-anchor="end">60</text>
<line x1="34.50" y1="585.79" x2="37.50" y2="585.79" stroke="#666" stroke-width="1"/>
<text x="32.3" y="588.5577142857144" font-size="7.7" font-weight="bold" text-anchor="end">80</text>
<line x1="34.50" y1="570.36" x2="37.50" y2="570.36" stroke="#666" stroke-width="1"/>
<text x="32.3" y="573.1291428571429" font-size="7.7" font-weight="bold" text-anchor="end">100</text>
<line x1="34.50" y1="554.93" x2="37.50" y2="554.93" stroke="#666" stroke-width="1"/>
<text x="32.3" y="557.7005714285715" font-size="7.7" font-weight="bold" text-anchor="end">120</text>
<line x1="34.50" y1="539.50" x2="37.50" y2="539.50" stroke="#666" stroke-width="1"/>
<text x="32.3" y="542.272" font-size="7.7" font-weight="bold" text-anchor="end">140</text>
<text x="83.1" y="527.2" font-size="10" font-weight="bold" text-anchor="middle">IFN-γ</text>
<text x="11.3" y="593" font-size="10" text-anchor="middle" transform="rotate(-90 11.3 593)">concentration (ng/mL)</text>
<text x="114" y="598.01" font-size="10.5" font-family="&quot;DejaVu Sans&quot;,&quot;Liberation Sans&quot;,sans-serif" font-weight="bold" text-anchor="middle" fill="#5a5a5a">*</text>
<rect x="193.0" y="597.41" width="12.0" height="50.79" fill="#bcbcbc" stroke="#333" stroke-width="0.9"/>
<line x1="199.00" y1="596.26" x2="199.00" y2="597.56" stroke="#4a4a4a" stroke-width="0.85"/>
<line x1="198.00" y1="596.26" x2="200.00" y2="596.26" stroke="#4a4a4a" stroke-width="0.85"/>
<line x1="198.00" y1="597.56" x2="200.00" y2="597.56" stroke="#4a4a4a" stroke-width="0.85"/>
<text x="199.5" y="660.8" font-size="7" font-weight="bold" text-anchor="middle">naive</text>
<rect x="226.0" y="562.79" width="13.0" height="85.41" fill="#bcbcbc" stroke="#333" stroke-width="0.9"/>
<line x1="232.50" y1="557.31" x2="232.50" y2="567.27" stroke="#4a4a4a" stroke-width="0.85"/>
<line x1="231.50" y1="557.31" x2="233.50" y2="557.31" stroke="#4a4a4a" stroke-width="0.85"/>
<line x1="231.50" y1="567.27" x2="233.50" y2="567.27" stroke="#4a4a4a" stroke-width="0.85"/>
<text x="233" y="660.8" font-size="7" font-weight="bold" text-anchor="middle">ctr</text>
<rect x="260.5" y="600.01" width="12.800000000000011" height="48.19" fill="#bcbcbc" stroke="#333" stroke-width="0.9"/>
<line x1="266.90" y1="595.18" x2="266.90" y2="603.84" stroke="#4a4a4a" stroke-width="0.85"/>
<line x1="265.90" y1="595.18" x2="267.90" y2="595.18" stroke="#4a4a4a" stroke-width="0.85"/>
<line x1="265.90" y1="603.84" x2="267.90" y2="603.84" stroke="#4a4a4a" stroke-width="0.85"/>
<text x="267.3" y="660.8" font-size="7" font-weight="bold" text-anchor="middle">RAPA</text>
<line x1="182.50" y1="539.50" x2="182.50" y2="648.70" stroke="#666" stroke-width="1.1"/>
<line x1="182.00" y1="648.20" x2="284.00" y2="648.20" stroke="#444" stroke-width="1.1"/>
<line x1="179.50" y1="648.20" x2="182.50" y2="648.20" stroke="#666" stroke-width="1"/>
<text x="176.8" y="651.1880000000001" font-size="8.3" font-weight="bold" text-anchor="end">0</text>
<line x1="179.50" y1="626.56" x2="182.50" y2="626.56" stroke="#666" stroke-width="1"/>
<text x="176.8" y="629.5480000000001" font-size="8.3" font-weight="bold" text-anchor="end">100</text>
<line x1="179.50" y1="604.92" x2="182.50" y2="604.92" stroke="#666" stroke-width="1"/>
<text x="176.8" y="607.9080000000001" font-size="8.3" font-weight="bold" text-anchor="end">200</text>
<line x1="179.50" y1="583.28" x2="182.50" y2="583.28" stroke="#666" stroke-width="1"/>
<text x="176.8" y="586.268" font-size="8.3" font-weight="bold" text-anchor="end">300</text>
<line x1="179.50" y1="561.64" x2="182.50" y2="561.64" stroke="#666" stroke-width="1"/>
<text x="176.8" y="564.628" font-size="8.3" font-weight="bold" text-anchor="end">400</text>
<line x1="179.50" y1="540.00" x2="182.50" y2="540.00" stroke="#666" stroke-width="1"/>
<text x="176.8" y="542.988" font-size="8.3" font-weight="bold" text-anchor="end">500</text>
<text x="236" y="526.3" font-size="10" font-weight="bold" text-anchor="middle">IL-2</text>
<text x="147.8" y="589" font-size="9.2" text-anchor="middle" transform="rotate(-90 147.8 589)">concentration (pg/mL)</text>
<text x="266" y="590.01" font-size="10.5" font-family="&quot;DejaVu Sans&quot;,&quot;Liberation Sans&quot;,sans-serif" font-weight="bold" text-anchor="middle" fill="#5a5a5a">*</text>
<rect x="311.25" y="627.01" width="12.5" height="21.79" fill="#bcbcbc" stroke="#333" stroke-width="0.9"/>
<line x1="317.50" y1="623.98" x2="317.50" y2="629.05" stroke="#4a4a4a" stroke-width="0.85"/>
<line x1="316.50" y1="623.98" x2="318.50" y2="623.98" stroke="#4a4a4a" stroke-width="0.85"/>
<line x1="316.50" y1="629.05" x2="318.50" y2="629.05" stroke="#4a4a4a" stroke-width="0.85"/>
<text x="318" y="665" font-size="9" font-weight="bold" text-anchor="middle" transform="translate(318 0) scale(0.66 1) translate(-318 0)">naive</text>
<rect x="341.75" y="619.92" width="12.25" height="28.88" fill="#bcbcbc" stroke="#333" stroke-width="0.9"/>
<line x1="347.88" y1="608.28" x2="347.88" y2="630.57" stroke="#4a4a4a" stroke-width="0.85"/>
<line x1="346.88" y1="608.28" x2="348.88" y2="608.28" stroke="#4a4a4a" stroke-width="0.85"/>
<line x1="346.88" y1="630.57" x2="348.88" y2="630.57" stroke="#4a4a4a" stroke-width="0.85"/>
<text x="347.7" y="665" font-size="9" font-weight="bold" text-anchor="middle" transform="translate(347.7 0) scale(0.66 1) translate(-347.7 0)">ctr</text>
<rect x="372.25" y="620.94" width="12.25" height="27.86" fill="#bcbcbc" stroke="#333" stroke-width="0.9"/>
<line x1="378.38" y1="617.90" x2="378.38" y2="622.97" stroke="#4a4a4a" stroke-width="0.85"/>
<line x1="377.38" y1="617.90" x2="379.38" y2="617.90" stroke="#4a4a4a" stroke-width="0.85"/>
<line x1="377.38" y1="622.97" x2="379.38" y2="622.97" stroke="#4a4a4a" stroke-width="0.85"/>
<text x="380" y="665" font-size="9" font-weight="bold" text-anchor="middle" transform="translate(380 0) scale(0.66 1) translate(-380 0)">RAPA</text>
<line x1="301.80" y1="547.00" x2="301.80" y2="649.30" stroke="#666" stroke-width="1.1"/>
<line x1="301.30" y1="648.80" x2="394.00" y2="648.80" stroke="#444" stroke-width="1.1"/>
<line x1="298.80" y1="648.80" x2="301.80" y2="648.80" stroke="#666" stroke-width="1"/>
<text x="297.6" y="652.9" font-size="10" font-weight="bold" text-anchor="end" transform="translate(297.6 0) scale(0.72 1) translate(-297.6 0)">0</text>
<line x1="298.80" y1="628.54" x2="301.80" y2="628.54" stroke="#666" stroke-width="1"/>
<text x="297.6" y="632.64" font-size="10" font-weight="bold" text-anchor="end" transform="translate(297.6 0) scale(0.72 1) translate(-297.6 0)">20</text>
<line x1="298.80" y1="608.28" x2="301.80" y2="608.28" stroke="#666" stroke-width="1"/>
<text x="297.6" y="612.38" font-size="10" font-weight="bold" text-anchor="end" transform="translate(297.6 0) scale(0.72 1) translate(-297.6 0)">40</text>
<line x1="298.80" y1="588.02" x2="301.80" y2="588.02" stroke="#666" stroke-width="1"/>
<text x="297.6" y="592.12" font-size="10" font-weight="bold" text-anchor="end" transform="translate(297.6 0) scale(0.72 1) translate(-297.6 0)">60</text>
<line x1="298.80" y1="567.76" x2="301.80" y2="567.76" stroke="#666" stroke-width="1"/>
<text x="297.6" y="571.86" font-size="10" font-weight="bold" text-anchor="end" transform="translate(297.6 0) scale(0.72 1) translate(-297.6 0)">80</text>
<line x1="298.80" y1="547.50" x2="301.80" y2="547.50" stroke="#666" stroke-width="1"/>
<text x="297.6" y="551.6" font-size="10" font-weight="bold" text-anchor="end" transform="translate(297.6 0) scale(0.72 1) translate(-297.6 0)">100</text>
<text x="347.5" y="526" font-size="10" font-weight="bold" text-anchor="middle" letter-spacing="0.3">IL-4</text>
<rect x="431.5" y="643.60" width="11" height="4.00" fill="#bcbcbc" stroke="#333" stroke-width="0.9"/>
<line x1="437.00" y1="642.38" x2="437.00" y2="643.82" stroke="#4a4a4a" stroke-width="0.85"/>
<line x1="436.00" y1="642.38" x2="438.00" y2="642.38" stroke="#4a4a4a" stroke-width="0.85"/>
<line x1="436.00" y1="643.82" x2="438.00" y2="643.82" stroke="#4a4a4a" stroke-width="0.85"/>
<text x="437.5" y="661.5" font-size="8" font-weight="bold" text-anchor="middle">naive</text>
<rect x="460.5" y="584.68" width="11.5" height="62.92" fill="#bcbcbc" stroke="#333" stroke-width="0.9"/>
<line x1="466.25" y1="573.73" x2="466.25" y2="594.45" stroke="#4a4a4a" stroke-width="0.85"/>
<line x1="465.25" y1="573.73" x2="467.25" y2="573.73" stroke="#4a4a4a" stroke-width="0.85"/>
<line x1="465.25" y1="594.45" x2="467.25" y2="594.45" stroke="#4a4a4a" stroke-width="0.85"/>
<text x="467" y="661.5" font-size="8" font-weight="bold" text-anchor="middle">ctr</text>
<rect x="490.0" y="602.70" width="11.5" height="44.90" fill="#bcbcbc" stroke="#333" stroke-width="0.9"/>
<line x1="495.75" y1="595.35" x2="495.75" y2="608.86" stroke="#4a4a4a" stroke-width="0.85"/>
<line x1="494.75" y1="595.35" x2="496.75" y2="595.35" stroke="#4a4a4a" stroke-width="0.85"/>
<line x1="494.75" y1="608.86" x2="496.75" y2="608.86" stroke="#4a4a4a" stroke-width="0.85"/>
<text x="496.5" y="661.5" font-size="8" font-weight="bold" text-anchor="middle">RAPA</text>
<line x1="422.40" y1="539.00" x2="422.40" y2="648.10" stroke="#666" stroke-width="1.1"/>
<line x1="421.90" y1="647.60" x2="511.30" y2="647.60" stroke="#444" stroke-width="1.1"/>
<line x1="419.40" y1="647.60" x2="422.40" y2="647.60" stroke="#666" stroke-width="1"/>
<text x="416.3" y="650.336" font-size="7.6" font-weight="bold" text-anchor="end">0</text>
<line x1="419.40" y1="629.58" x2="422.40" y2="629.58" stroke="#666" stroke-width="1"/>
<text x="416.3" y="632.3193333333334" font-size="7.6" font-weight="bold" text-anchor="end">100</text>
<line x1="419.40" y1="611.57" x2="422.40" y2="611.57" stroke="#666" stroke-width="1"/>
<text x="416.3" y="614.3026666666667" font-size="7.6" font-weight="bold" text-anchor="end">200</text>
<line x1="419.40" y1="593.55" x2="422.40" y2="593.55" stroke="#666" stroke-width="1"/>
<text x="416.3" y="596.286" font-size="7.6" font-weight="bold" text-anchor="end">300</text>
<line x1="419.40" y1="575.53" x2="422.40" y2="575.53" stroke="#666" stroke-width="1"/>
<text x="416.3" y="578.2693333333333" font-size="7.6" font-weight="bold" text-anchor="end">400</text>
<line x1="419.40" y1="557.52" x2="422.40" y2="557.52" stroke="#666" stroke-width="1"/>
<text x="416.3" y="560.2526666666666" font-size="7.6" font-weight="bold" text-anchor="end">500</text>
<line x1="419.40" y1="539.50" x2="422.40" y2="539.50" stroke="#666" stroke-width="1"/>
<text x="416.3" y="542.236" font-size="7.6" font-weight="bold" text-anchor="end">600</text>
<text x="467.5" y="525.5" font-size="10" font-weight="bold" text-anchor="middle">IL-10</text>
</g>
<g id="panelB">
<text x="314.3" y="33.8" font-size="9.25" font-weight="bold" fill="#111">C57B/10J</text>
<text x="314" y="44.8" font-size="9.25" font-weight="bold" fill="#111">(H2<tspan font-size="5.5" dy="-2.8">b,</tspan><tspan dy="2.8"> IA</tspan><tspan font-size="5.5" dy="-2.8">b</tspan><tspan dy="2.8">)</tspan></text>
<text x="367" y="33.8" font-size="9.25" font-weight="bold" fill="#111">± RAPA i.p.</text>
<text x="367" y="44.8" font-size="9.25" font-weight="bold" fill="#111">±Flt3L i.p.</text>
<text x="367.5" y="55.8" font-size="9.25" font-weight="bold" fill="#111">10 days</text>
<text x="452.5" y="102.5" font-size="9.25" font-weight="bold" fill="#111">DC purification</text>
<text x="452.5" y="113.5" font-size="9.25" font-weight="bold" fill="#111">i.v. injection</text>
<text x="381" y="132.5" font-size="9.25" font-weight="bold" fill="#111">10 days</text>
<text x="436" y="198.3" font-size="9.25" font-weight="bold" fill="#111">C3H/HeJ</text>
<text x="433" y="209.3" font-size="9.25" font-weight="bold" fill="#111">(H2<tspan font-size="5.5" dy="-2.8">k,</tspan><tspan dy="2.8"> IA</tspan><tspan font-size="5.5" dy="-2.8">k</tspan><tspan dy="2.8">)</tspan></text>
<text x="295" y="199" font-size="9.25" font-weight="bold" fill="#111">T-cell purification</text>
<text x="295" y="210" font-size="9.25" font-weight="bold" fill="#111">and stimulation with</text>
<text x="295" y="221" font-size="9.25" font-weight="bold" fill="#111">donor splenocytes</text>
<line x1="372" y1="65" x2="405.00" y2="65.00" stroke="#111" stroke-width="1.2"/>
<path d="M414.00 65.00L405.00 69.50L405.00 60.50Z" fill="#000"/>
<line x1="442" y1="95" x2="442.00" y2="113.50" stroke="#111" stroke-width="1.2"/>
<path d="M442.00 122.50L437.50 113.50L446.50 113.50Z" fill="#000"/>
<line x1="414.5" y1="141.8" x2="382.00" y2="141.80" stroke="#111" stroke-width="1.2"/>
<path d="M373.00 141.80L382.00 137.30L382.00 146.30Z" fill="#000"/>
<line x1="331.8" y1="171" x2="331.80" y2="178.50" stroke="#111" stroke-width="1.2"/>
<path d="M331.80 185.00L327.50 178.50L336.10 178.50Z" fill="#000"/>
<g transform="translate(295 45)">
<path d="M16 24.3C12 24.6 8.2 27 6.3 30.6C4.8 34 6 38 10.2 40.4C14.5 42.6 21 42.8 27 42.4C33 42 38 40.8 43 40.5C47 40.3 51.5 40.6 53.8 42.4C55 43.5 55 45.4 53.8 46.4" fill="none" stroke="#222" stroke-width="2.35" stroke-linecap="round" stroke-linejoin="round"/>
<path d="M16 24.3C12 24.6 8.2 27 6.3 30.6C4.8 34 6 38 10.2 40.4C12.8 41.7 15.5 42.2 19 42.5" fill="none" stroke="#fff" stroke-width="0.7" stroke-linecap="round"/>
<path d="M15.8 22C16.8 18.5 19.5 15 22.5 12.8C25.5 10.5 30 9.2 35 9C37.5 9 40 9.8 43.6 11.3L44.5 10C47 8 52 7.8 55.4 11.3C58 12.5 62 15 64.6 17.3L66 19.2C65.5 20.5 64.5 21 63.8 21.4C61 23.5 57 25 52.3 26.4C50.5 27.5 49 28.7 47 29.6L49.4 30.3L56 30.8L56.3 31.9L51.5 32.2L51 33.4L46.5 32.9C44.5 34 41 33.6 39.2 32.3C37.8 31 36.8 29.8 36.3 28.3L35 29.7L28.4 30.1L28.6 32.6L25 33.8L19 32L17.5 28C16.3 26.5 15.6 24.3 15.8 22Z" fill="#fff" stroke="none"/>
<path d="M15.8 22C16.8 18.5 19.5 15 22.5 12.8C25.5 10.5 30 9.2 35 9C37.5 9 40 9.8 43.6 11.3" fill="none" stroke="#0c0c0c" stroke-width="1.5" stroke-linecap="round"/>
<path d="M55.4 11.4C58 12.6 62 15 64.6 17.3L66 19.2C65.5 20.5 64.5 21 63.8 21.4C61 23.5 57 25 52.3 26.4C50.5 27.5 49 28.7 47 29.6" fill="none" stroke="#111" stroke-width="1.2" stroke-linecap="round" stroke-linejoin="round"/>
<path d="M64.3 18.2L66.1 19.2L64.4 20.6Z" fill="#000"/>
<path d="M15.8 22C15.6 24.3 16.3 26.2 17.6 27.3C19.5 29 22 30.3 24.3 30.4C27 30.4 29.5 29.5 30.5 28.1C32 26 32.6 23.5 32.9 21.6" fill="none" stroke="#111" stroke-width="1.15" stroke-linecap="round"/>
<path d="M17.5 28.2L19 32.5L25 34.4L28.8 33.3L25.8 32L20.6 30.8" fill="none" stroke="#111" stroke-width="1" stroke-linejoin="round" stroke-linecap="round"/>
<path d="M28.3 30C30.5 29.9 33 29.8 35 29.6C35.6 29.2 36 28.7 36.3 28.2C36.8 29.8 37.8 31 39.2 32.3C41 33.6 44 33.9 46.4 33" fill="none" stroke="#111" stroke-width="1.1" stroke-linecap="round"/>
<path d="M46.6 29.7L46.4 32.8L51 33.5L51.4 32.2L56.4 31.9M49.4 30.2L56 30.7M49.3 30.2L49.5 32.4" fill="none" stroke="#111" stroke-width="1.05" stroke-linejoin="round" stroke-linecap="round"/>
<path d="M50.6 8.6C52.6 7.6 54.8 8.8 55.4 11.2" fill="none" stroke="#111" stroke-width="1.1" stroke-linecap="round"/>
<ellipse cx="47.7" cy="12.2" rx="3.9" ry="3.9" fill="#fff" stroke="#111" stroke-width="1.15"/>
<ellipse cx="47.9" cy="12.7" rx="1.7" ry="1.5" fill="#bbb"/>
<ellipse cx="57.3" cy="16.9" rx="1.45" ry="1.05" fill="#000" transform="rotate(28 57.3 16.9)"/>
<ellipse cx="32.8" cy="21" rx="0.5" ry="1.1" fill="#333"/>
<circle cx="41.9" cy="22.3" r="0.55" fill="#444"/><circle cx="45.4" cy="24.6" r="0.45" fill="#666"/><circle cx="51.2" cy="21.2" r="0.7" fill="#bbb"/><circle cx="55" cy="20.8" r="0.5" fill="#999"/>
</g>
<g transform="translate(416.7 43)">
<path d="M16 24.3C12 24.6 8.2 27 6.3 30.6C4.8 34 6 38 10.2 40.4C14.5 42.6 21 42.8 27 42.4C33 42 38 40.8 43 40.5C47 40.3 51.5 40.6 53.8 42.4C55 43.5 55 45.4 53.8 46.4" fill="none" stroke="#222" stroke-width="2.35" stroke-linecap="round" stroke-linejoin="round"/>
<path d="M16 24.3C12 24.6 8.2 27 6.3 30.6C4.8 34 6 38 10.2 40.4C12.8 41.7 15.5 42.2 19 42.5" fill="none" stroke="#fff" stroke-width="0.7" stroke-linecap="round"/>
<path d="M15.8 22C16.8 18.5 19.5 15 22.5 12.8C25.5 10.5 30 9.2 35 9C37.5 9 40 9.8 43.6 11.3L44.5 10C47 8 52 7.8 55.4 11.3C58 12.5 62 15 64.6 17.3L66 19.2C65.5 20.5 64.5 21 63.8 21.4C61 23.5 57 25 52.3 26.4C50.5 27.5 49 28.7 47 29.6L49.4 30.3L56 30.8L56.3 31.9L51.5 32.2L51 33.4L46.5 32.9C44.5 34 41 33.6 39.2 32.3C37.8 31 36.8 29.8 36.3 28.3L35 29.7L28.4 30.1L28.6 32.6L25 33.8L19 32L17.5 28C16.3 26.5 15.6 24.3 15.8 22Z" fill="#fff" stroke="none"/>
<path d="M15.8 22C16.8 18.5 19.5 15 22.5 12.8C25.5 10.5 30 9.2 35 9C37.5 9 40 9.8 43.6 11.3" fill="none" stroke="#0c0c0c" stroke-width="1.5" stroke-linecap="round"/>
<path d="M55.4 11.4C58 12.6 62 15 64.6 17.3L66 19.2C65.5 20.5 64.5 21 63.8 21.4C61 23.5 57 25 52.3 26.4C50.5 27.5 49 28.7 47 29.6" fill="none" stroke="#111" stroke-width="1.2" stroke-linecap="round" stroke-linejoin="round"/>
<path d="M64.3 18.2L66.1 19.2L64.4 20.6Z" fill="#000"/>
<path d="M15.8 22C15.6 24.3 16.3 26.2 17.6 27.3C19.5 29 22 30.3 24.3 30.4C27 30.4 29.5 29.5 30.5 28.1C32 26 32.6 23.5 32.9 21.6" fill="none" stroke="#111" stroke-width="1.15" stroke-linecap="round"/>
<path d="M17.5 28.2L19 32.5L25 34.4L28.8 33.3L25.8 32L20.6 30.8" fill="none" stroke="#111" stroke-width="1" stroke-linejoin="round" stroke-linecap="round"/>
<path d="M28.3 30C30.5 29.9 33 29.8 35 29.6C35.6 29.2 36 28.7 36.3 28.2C36.8 29.8 37.8 31 39.2 32.3C41 33.6 44 33.9 46.4 33" fill="none" stroke="#111" stroke-width="1.1" stroke-linecap="round"/>
<path d="M46.6 29.7L46.4 32.8L51 33.5L51.4 32.2L56.4 31.9M49.4 30.2L56 30.7M49.3 30.2L49.5 32.4" fill="none" stroke="#111" stroke-width="1.05" stroke-linejoin="round" stroke-linecap="round"/>
<path d="M50.6 8.6C52.6 7.6 54.8 8.8 55.4 11.2" fill="none" stroke="#111" stroke-width="1.1" stroke-linecap="round"/>
<ellipse cx="47.7" cy="12.2" rx="3.9" ry="3.9" fill="#fff" stroke="#111" stroke-width="1.15"/>
<ellipse cx="47.9" cy="12.7" rx="1.7" ry="1.5" fill="#bbb"/>
<ellipse cx="57.3" cy="16.9" rx="1.45" ry="1.05" fill="#000" transform="rotate(28 57.3 16.9)"/>
<ellipse cx="32.8" cy="21" rx="0.5" ry="1.1" fill="#333"/>
<circle cx="41.9" cy="22.3" r="0.55" fill="#444"/><circle cx="45.4" cy="24.6" r="0.45" fill="#666"/><circle cx="51.2" cy="21.2" r="0.7" fill="#bbb"/><circle cx="55" cy="20.8" r="0.5" fill="#999"/>
<text x="39.2" y="25.9" font-size="15.5" font-weight="bold" text-anchor="middle" fill="#111" stroke="#111" stroke-width="0.4">†</text>
</g>
<g transform="translate(424.5 127.7)">
<path d="M16 24.3C12 24.6 8.2 27 6.3 30.6C4.8 34 6 38 10.2 40.4C14.5 42.6 21 42.8 27 42.4C33 42 38 40.8 43 40.5C47 40.3 51.5 40.6 53.8 42.4C55 43.5 55 45.4 53.8 46.4" fill="none" stroke="#222" stroke-width="2.35" stroke-linecap="round" stroke-linejoin="round"/>
<path d="M16 24.3C12 24.6 8.2 27 6.3 30.6C4.8 34 6 38 10.2 40.4C12.8 41.7 15.5 42.2 19 42.5" fill="none" stroke="#fff" stroke-width="0.7" stroke-linecap="round"/>
<path d="M15.8 22C16.8 18.5 19.5 15 22.5 12.8C25.5 10.5 30 9.2 35 9C37.5 9 40 9.8 43.6 11.3L44.5 10C47 8 52 7.8 55.4 11.3C58 12.5 62 15 64.6 17.3L66 19.2C65.5 20.5 64.5 21 63.8 21.4C61 23.5 57 25 52.3 26.4C50.5 27.5 49 28.7 47 29.6L49.4 30.3L56 30.8L56.3 31.9L51.5 32.2L51 33.4L46.5 32.9C44.5 34 41 33.6 39.2 32.3C37.8 31 36.8 29.8 36.3 28.3L35 29.7L28.4 30.1L28.6 32.6L25 33.8L19 32L17.5 28C16.3 26.5 15.6 24.3 15.8 22Z" fill="#c9c9c9" stroke="none"/>
<path d="M17.6 27.4C19.5 29 22 30.3 24.3 30.4C27 30.4 29.5 29.5 30.5 28.1L35 29.7L36.3 28.3C36.8 29.8 37.8 31 39.2 32.3C41 33.6 44.5 34 46.5 32.9L51 33.4L51.5 32.2L56.3 31.9L56 30.8L49.4 30.3L47 29.6C49 28.7 50.5 27.5 52.3 26.4C49 27.2 46 28 43 28.4L28.6 32.6L25 33.8L19 32Z" fill="#fff" stroke="none"/>
<path d="M17.5 28L19 32L25 33.8L28.6 32.6L28.4 30.1C26 30.6 21 29.8 17.5 28Z" fill="#fff" stroke="none"/>
<path d="M15.8 22C16.8 18.5 19.5 15 22.5 12.8C25.5 10.5 30 9.2 35 9C37.5 9 40 9.8 43.6 11.3" fill="none" stroke="#0c0c0c" stroke-width="1.5" stroke-linecap="round"/>
<path d="M55.4 11.4C58 12.6 62 15 64.6 17.3L66 19.2C65.5 20.5 64.5 21 63.8 21.4C61 23.5 57 25 52.3 26.4C50.5 27.5 49 28.7 47 29.6" fill="none" stroke="#111" stroke-width="1.2" stroke-linecap="round" stroke-linejoin="round"/>
<path d="M64.3 18.2L66.1 19.2L64.4 20.6Z" fill="#000"/>
<path d="M15.8 22C15.6 24.3 16.3 26.2 17.6 27.3C19.5 29 22 30.3 24.3 30.4C27 30.4 29.5 29.5 30.5 28.1C32 26 32.6 23.5 32.9 21.6" fill="none" stroke="#111" stroke-width="1.15" stroke-linecap="round"/>
<path d="M17.5 28.2L19 32.5L25 34.4L28.8 33.3L25.8 32L20.6 30.8" fill="none" stroke="#111" stroke-width="1" stroke-linejoin="round" stroke-linecap="round"/>
<path d="M28.3 30C30.5 29.9 33 29.8 35 29.6C35.6 29.2 36 28.7 36.3 28.2C36.8 29.8 37.8 31 39.2 32.3C41 33.6 44 33.9 46.4 33" fill="none" stroke="#111" stroke-width="1.1" stroke-linecap="round"/>
<path d="M46.6 29.7L46.4 32.8L51 33.5L51.4 32.2L56.4 31.9M49.4 30.2L56 30.7M49.3 30.2L49.5 32.4" fill="none" stroke="#111" stroke-width="1.05" stroke-linejoin="round" stroke-linecap="round"/>
<path d="M50.6 8.6C52.6 7.6 54.8 8.8 55.4 11.2" fill="none" stroke="#111" stroke-width="1.1" stroke-linecap="round"/>
<ellipse cx="47.7" cy="12.2" rx="3.9" ry="3.9" fill="#ddd" stroke="#111" stroke-width="1.15"/>
<ellipse cx="47.9" cy="12.7" rx="1.7" ry="1.5" fill="#bbb"/>
<ellipse cx="57.3" cy="16.9" rx="1.45" ry="1.05" fill="#000" transform="rotate(28 57.3 16.9)"/>
<ellipse cx="32.8" cy="21" rx="0.5" ry="1.1" fill="#333"/>
<circle cx="41.9" cy="22.3" r="0.55" fill="#444"/><circle cx="45.4" cy="24.6" r="0.45" fill="#666"/><circle cx="51.2" cy="21.2" r="0.7" fill="#bbb"/><circle cx="55" cy="20.8" r="0.5" fill="#999"/>
</g>
<g transform="translate(291.7 120.9)">
<path d="M16 24.3C12 24.6 8.2 27 6.3 30.6C4.8 34 6 38 10.2 40.4C14.5 42.6 21 42.8 27 42.4C33 42 38 40.8 43 40.5C47 40.3 51.5 40.6 53.8 42.4C55 43.5 55 45.4 53.8 46.4" fill="none" stroke="#222" stroke-width="2.35" stroke-linecap="round" stroke-linejoin="round"/>
<path d="M16 24.3C12 24.6 8.2 27 6.3 30.6C4.8 34 6 38 10.2 40.4C12.8 41.7 15.5 42.2 19 42.5" fill="none" stroke="#fff" stroke-width="0.7" stroke-linecap="round"/>
<path d="M15.8 22C16.8 18.5 19.5 15 22.5 12.8C25.5 10.5 30 9.2 35 9C37.5 9 40 9.8 43.6 11.3L44.5 10C47 8 52 7.8 55.4 11.3C58 12.5 62 15 64.6 17.3L66 19.2C65.5 20.5 64.5 21 63.8 21.4C61 23.5 57 25 52.3 26.4C50.5 27.5 49 28.7 47 29.6L49.4 30.3L56 30.8L56.3 31.9L51.5 32.2L51 33.4L46.5 32.9C44.5 34 41 33.6 39.2 32.3C37.8 31 36.8 29.8 36.3 28.3L35 29.7L28.4 30.1L28.6 32.6L25 33.8L19 32L17.5 28C16.3 26.5 15.6 24.3 15.8 22Z" fill="#c9c9c9" stroke="none"/>
<path d="M17.6 27.4C19.5 29 22 30.3 24.3 30.4C27 30.4 29.5 29.5 30.5 28.1L35 29.7L36.3 28.3C36.8 29.8 37.8 31 39.2 32.3C41 33.6 44.5 34 46.5 32.9L51 33.4L51.5 32.2L56.3 31.9L56 30.8L49.4 30.3L47 29.6C49 28.7 50.5 27.5 52.3 26.4C49 27.2 46 28 43 28.4L28.6 32.6L25 33.8L19 32Z" fill="#fff" stroke="none"/>
<path d="M17.5 28L19 32L25 33.8L28.6 32.6L28.4 30.1C26 30.6 21 29.8 17.5 28Z" fill="#fff" stroke="none"/>
<path d="M15.8 22C16.8 18.5 19.5 15 22.5 12.8C25.5 10.5 30 9.2 35 9C37.5 9 40 9.8 43.6 11.3" fill="none" stroke="#0c0c0c" stroke-width="1.5" stroke-linecap="round"/>
<path d="M55.4 11.4C58 12.6 62 15 64.6 17.3L66 19.2C65.5 20.5 64.5 21 63.8 21.4C61 23.5 57 25 52.3 26.4C50.5 27.5 49 28.7 47 29.6" fill="none" stroke="#111" stroke-width="1.2" stroke-linecap="round" stroke-linejoin="round"/>
<path d="M64.3 18.2L66.1 19.2L64.4 20.6Z" fill="#000"/>
<path d="M15.8 22C15.6 24.3 16.3 26.2 17.6 27.3C19.5 29 22 30.3 24.3 30.4C27 30.4 29.5 29.5 30.5 28.1C32 26 32.6 23.5 32.9 21.6" fill="none" stroke="#111" stroke-width="1.15" stroke-linecap="round"/>
<path d="M17.5 28.2L19 32.5L25 34.4L28.8 33.3L25.8 32L20.6 30.8" fill="none" stroke="#111" stroke-width="1" stroke-linejoin="round" stroke-linecap="round"/>
<path d="M28.3 30C30.5 29.9 33 29.8 35 29.6C35.6 29.2 36 28.7 36.3 28.2C36.8 29.8 37.8 31 39.2 32.3C41 33.6 44 33.9 46.4 33" fill="none" stroke="#111" stroke-width="1.1" stroke-linecap="round"/>
<path d="M46.6 29.7L46.4 32.8L51 33.5L51.4 32.2L56.4 31.9M49.4 30.2L56 30.7M49.3 30.2L49.5 32.4" fill="none" stroke="#111" stroke-width="1.05" stroke-linejoin="round" stroke-linecap="round"/>
<path d="M50.6 8.6C52.6 7.6 54.8 8.8 55.4 11.2" fill="none" stroke="#111" stroke-width="1.1" stroke-linecap="round"/>
<ellipse cx="47.7" cy="12.2" rx="3.9" ry="3.9" fill="#ddd" stroke="#111" stroke-width="1.15"/>
<ellipse cx="47.9" cy="12.7" rx="1.7" ry="1.5" fill="#bbb"/>
<ellipse cx="57.3" cy="16.9" rx="1.45" ry="1.05" fill="#000" transform="rotate(28 57.3 16.9)"/>
<ellipse cx="32.8" cy="21" rx="0.5" ry="1.1" fill="#333"/>
<circle cx="41.9" cy="22.3" r="0.55" fill="#444"/><circle cx="45.4" cy="24.6" r="0.45" fill="#666"/><circle cx="51.2" cy="21.2" r="0.7" fill="#bbb"/><circle cx="55" cy="20.8" r="0.5" fill="#999"/>
<text x="39.5" y="24.6" font-size="15.5" font-weight="bold" text-anchor="middle" fill="#111" stroke="#111" stroke-width="0.4">†</text>
</g>
</g>
</svg>
</body></html>
